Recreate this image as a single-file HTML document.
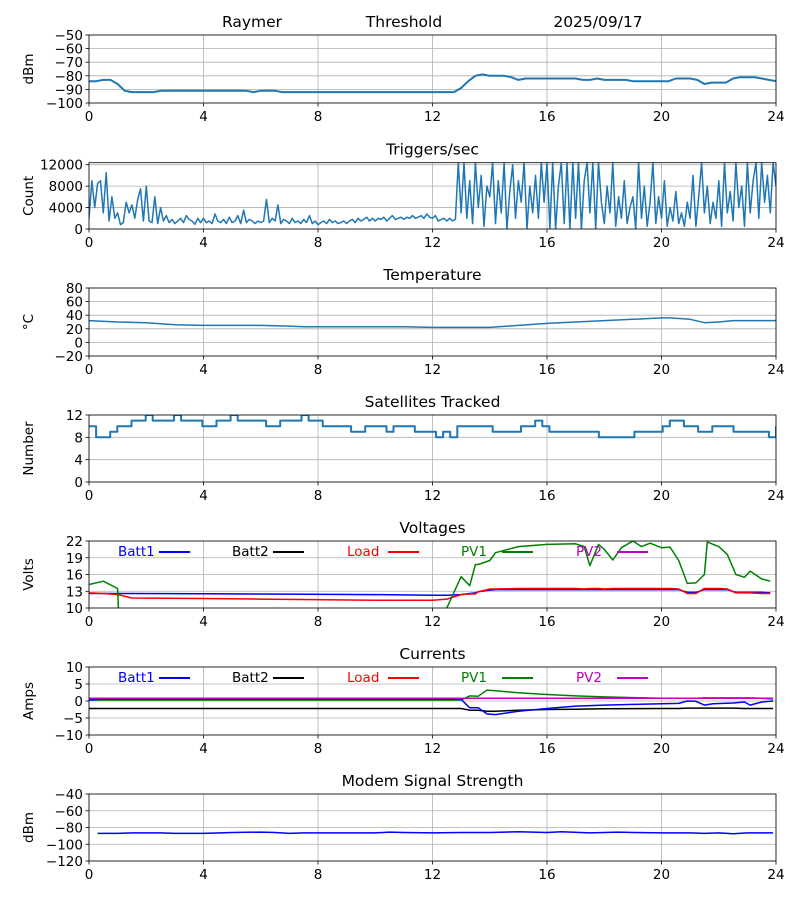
<!DOCTYPE html>
<html><head><meta charset="utf-8"><style>
html,body{margin:0;padding:0;background:#fff;}
svg{display:block;font-family:"DejaVu Sans","Liberation Sans",sans-serif;}
</style></head><body>
<svg id="chart" width="800" height="900" viewBox="0 0 800 900" xmlns="http://www.w3.org/2000/svg">
<text x="252" y="27" font-size="15.5" text-anchor="middle">Raymer</text>
<text x="404" y="27" font-size="15.5" text-anchor="middle">Threshold</text>
<text x="598" y="27" font-size="15.5" text-anchor="middle">2025/09/17</text>
</svg>
<script>
// ---------- data ----------
const dbmValues=[-84,-84,-83,-83,-86,-91,-92,-92,-92,-92,-91,-91,-91,-91,-91,-91,-91,-91,-91,-91,-91,-91,-91,-92,-91,-91,-91,-92,-92,-92,-92,-92,-92,-92,-92,-92,-92,-92,-92,-92,-92,-92,-92,-92,-92,-92,-92,-92,-92,-92,-92,-92,-89,-84,-80,-79,-80,-80,-80,-81,-83,-82,-82,-82,-82,-82,-82,-82,-82,-83,-83,-82,-83,-83,-83,-83,-84,-84,-84,-84,-84,-84,-82,-82,-82,-83,-86,-85,-85,-85,-82,-81,-81,-81,-82,-83,-84];
const trigValues=[2000,9000,4000,8500,9000,3000,10500,1500,6000,2000,3000,800,1200,5000,3000,4500,2000,5500,7500,1500,8000,1500,1200,6000,1000,4000,1500,2500,1200,1800,1000,1500,2000,1200,2500,1800,1500,900,2000,1200,2000,1200,1500,1000,2800,1500,1200,1800,1000,2200,1200,1500,2500,1000,3500,1200,1800,1500,1000,1500,1200,1500,5500,1200,2000,1500,4500,1000,1800,1500,1000,2000,1200,1500,1000,1800,1200,2500,1000,1500,800,1200,1500,1000,1800,1200,1500,1000,1200,1500,1000,1500,1800,1200,2000,1500,1800,2200,1500,2000,1500,2000,1800,2200,1500,2000,2500,1800,2000,2200,1800,2200,2000,2500,2000,2200,2500,2000,2800,2200,2000,2500,1500,1800,2000,1500,2000,1500,1800,12400,3000,12400,2000,9000,1000,12400,4000,10000,500,8000,6000,12400,1000,9000,3000,12400,0,7000,12000,2000,9000,5000,12400,0,8000,3000,10000,2000,12400,5000,12400,0,12400,0,8000,12400,1000,12400,0,12400,2000,12400,0,9000,12400,3000,12400,0,12400,5000,1000,8000,3000,12400,500,6000,2000,9000,1000,4000,6000,0,12400,2000,8000,500,5000,12400,1000,6000,2000,9000,500,4000,1500,7000,1000,3000,500,5000,2000,10000,500,6000,12400,3000,8000,1000,5000,2000,9000,500,12400,3000,7000,1500,12400,4000,8000,500,12400,3000,9000,12400,2000,12400,5000,10000,3000,12400,8000];
const tempHours=[0,1,2,3,4,5,6,7,7.5,8,9,10,11,12,13,14,15,16,17,18,19,20,20.3,21,21.5,22,22.5,23,24];
const tempValues=[32,30,29,26,25,25,25,24,23,23,23,23,23,22,22,22,25,28,30,32,34,36,36,34,29,30,32,32,32];
const satValues=[10,8,8,9,10,10,11,11,12,11,11,11,12,11,11,11,10,10,11,11,12,11,11,11,11,10,10,11,11,11,12,11,11,10,10,10,10,9,9,10,10,10,9,10,10,10,9,9,9,8,9,8,10,10,10,10,10,9,9,9,9,10,10,11,10,9,9,9,9,9,9,9,8,8,8,8,8,9,9,9,9,10,11,11,10,10,9,9,10,10,10,9,9,9,9,9,8,10];
const voltHours=[0,0.5,1,1.1,1.5,4,6,10,12,12.5,13,13.3,13.5,13.6,14,14.2,15,16,17,17.3,17.5,17.8,18,18.3,18.6,19,19.3,19.6,20,20.3,20.6,20.9,21.2,21.5,21.6,22,22.3,22.6,22.9,23.1,23.5,23.8];
const batt1Volts=[12.6,12.6,12.6,12.6,12.6,12.55,12.5,12.4,12.3,12.3,12.4,12.6,12.7,12.9,13.2,13.3,13.3,13.3,13.3,13.3,13.3,13.3,13.3,13.3,13.3,13.3,13.3,13.3,13.3,13.3,13.3,12.8,12.8,13.3,13.3,13.3,13.3,12.8,12.8,12.8,12.8,12.7];
const loadVolts=[12.7,12.6,12.4,12.3,11.8,11.7,11.6,11.4,11.4,11.6,12.4,12.5,12.5,12.9,13.4,13.4,13.5,13.5,13.5,13.4,13.5,13.5,13.4,13.5,13.5,13.5,13.5,13.5,13.5,13.5,13.4,12.6,12.6,13.5,13.5,13.5,13.4,12.7,12.7,12.7,12.6,12.6];
const pv1Volts=[14.2,14.8,13.5,0,0,0,0,0,0,10,15.6,14,17.8,17.8,18.5,19.9,21,21.4,21.5,21,17.6,21.4,20.5,18.6,20.8,22,21,21.6,20.8,20.9,18.5,14.4,14.5,16,21.8,21,19.6,16,15.5,16.6,15.2,14.8];
const currHours=[0,0.5,13,13.3,13.6,13.9,14.2,15,16,17,18,19,20,20.6,20.9,21.2,21.5,21.8,22.5,22.9,23.1,23.5,23.9];
const batt1Amps=[0.3,0.5,0.5,-2,-2,-3.8,-4,-3,-2.2,-1.5,-1.2,-1,-0.8,-0.7,0,-0.1,-1.2,-0.8,-0.6,-0.3,-1.2,-0.3,0];
const batt2Amps=[-2.2,-2.2,-2.2,-2.7,-2.7,-3,-3,-2.7,-2.5,-2.4,-2.3,-2.25,-2.2,-2.2,-2.1,-2.1,-2.1,-2.1,-2.1,-2.2,-2.2,-2.2,-2.2];
const pv1Amps=[0.3,0.3,0.3,1.5,1.4,3.2,3,2.4,1.9,1.5,1.2,1,0.8,0.8,0.8,0.8,0.9,0.9,0.9,0.9,0.9,0.8,0.6];
const pv2Amps=[0.8,0.8,0.8,0.8,0.8,0.8,0.8,0.8,0.8,0.8,0.8,0.8,0.8,0.8,0.8,0.8,0.8,0.8,0.8,0.8,0.8,0.8,0.8];
const modemHours=[0.3,1,1.5,2.5,3,4,5,6,6.5,7,7.5,9,10,10.5,11,12,13,14,15,16,16.5,17.5,18.5,19,20,21,21.5,22,22.5,23,23.9];
const modemValues=[-87,-87,-86.5,-86.5,-87,-87,-86,-85.5,-86,-87,-86.5,-86.5,-86.5,-85.5,-86,-86.5,-86,-86,-85,-86,-85,-86.5,-85.5,-86,-86.5,-86.5,-87,-86.5,-87.5,-86.5,-86.5];
const xTicks=[0,4,8,12,16,20,24];

// ---------- drawing ----------
const NS='http://www.w3.org/2000/svg';
const svg=document.getElementById('chart');
const X0=89,X1=776;
function mk(tag,attrs,parent){const e=document.createElementNS(NS,tag);for(const k in attrs)e.setAttribute(k,attrs[k]);(parent||svg).appendChild(e);return e;}
function xs(h){return X0+(h/24)*(X1-X0);}
function idxHours(n){const a=[];for(let i=0;i<n;i++)a.push(i*24/(n-1));return a;}

function panel(cfg){
  const g=mk('g',{});
  
  
  const ys=v=>cfg.bottom-(v-cfg.ymin)/(cfg.ymax-cfg.ymin)*(cfg.bottom-cfg.top);
  const cid='clip-'+cfg.name;
  const cp=mk('clipPath',{id:cid},g);mk('rect',{x:X0,y:cfg.top,width:X1-X0,height:cfg.bottom-cfg.top},cp);
  xTicks.forEach(t=>{
    const l=mk('line',{x1:xs(t),x2:xs(t),y1:cfg.top,y2:cfg.bottom,stroke:'#b0b0b0','stroke-width':0.8},g);
    
    
    mk('line',{x1:xs(t),x2:xs(t),y1:cfg.bottom,y2:cfg.bottom+3.5,stroke:'#000','stroke-width':0.8},g);
    const tx=mk('text',{x:xs(t),y:cfg.bottom+18,'font-size':13.5,'text-anchor':'middle'},g);
    tx.textContent=t;
    
    
  });
  cfg.yticks.forEach(t=>{
    const y=ys(t);
    const l=mk('line',{x1:X0,x2:X1,y1:y,y2:y,stroke:'#b0b0b0','stroke-width':0.8},g);
    
    
    mk('line',{x1:X0-3.5,x2:X0,y1:y,y2:y,stroke:'#000','stroke-width':0.8},g);
    const tx=mk('text',{x:X0-6,y:y+5,'font-size':13.5,'text-anchor':'end'},g);
    tx.textContent=String(t).replace('-','\u2212');
    
    
  });
  const yl=mk('text',{x:0,y:0,'font-size':13.5,'text-anchor':'middle',transform:`translate(33,${(cfg.top+cfg.bottom)/2}) rotate(-90)`},g);
  yl.textContent=cfg.ylabel;
  
  
  if(cfg.title){
    const tt=mk('text',{x:432.5,y:cfg.top-8,'font-size':15.5,'text-anchor':'middle'},g);
    tt.textContent=cfg.title;
    
    
  }
  cfg.series.forEach(s=>{
    let d='';
    s.y.forEach((v,i)=>{
      let px=xs(s.x[i]),py=ys(v);
      if(s.step&&i>0){d+=`L${px.toFixed(1)},${ys(s.y[i-1]).toFixed(1)}`;}
      d+=(i?'L':'M')+px.toFixed(1)+','+py.toFixed(1);
    });
    const p=mk('path',{d:d,fill:'none',stroke:s.color,'stroke-width':s.w||1.5,'clip-path':`url(#${cid})`,'stroke-linejoin':'round'},g);
    
    
  });
  mk('rect',{x:X0,y:cfg.top,width:X1-X0,height:cfg.bottom-cfg.top,fill:'none',stroke:'#000','stroke-width':0.8},g);
  if(cfg.legend){
    const items=[['Batt1','#0000ff',118],['Batt2','#000000',232],['Load','#ff0000',347],['PV1','#008000',461],['PV2','#bf00bf',576]];
    items.forEach(it=>{
      const lg=mk('g',{},g);
      
      
      const t=mk('text',{x:it[2],y:cfg.top+15,'font-size':13.5,fill:it[1]},lg);
      t.textContent=it[0];
      mk('line',{x1:it[2]+41,x2:it[2]+72,y1:cfg.top+11,y2:cfg.top+11,stroke:it[1],'stroke-width':2},lg);
    });
  }
}
const B='#1f77b4';
panel({name:'dbm',top:35,bottom:103,ymin:-100,ymax:-50,yticks:[-50,-60,-70,-80,-90,-100],ylabel:'dBm',
  series:[{name:'dbm',x:idxHours(dbmValues.length),y:dbmValues,color:B,w:2}]});
panel({name:'triggers',top:162.7,bottom:229,ymin:0,ymax:12373,yticks:[0,4000,8000,12000],ylabel:'Count',title:'Triggers/sec',
  series:[{name:'triggers',x:idxHours(trigValues.length),y:trigValues,color:B,w:1.5}]});
panel({name:'temperature',top:288,bottom:356,ymin:-20,ymax:80,yticks:[-20,0,20,40,60,80],ylabel:'\u00B0C',title:'Temperature',
  series:[{name:'temperature',x:tempHours,y:tempValues,color:B}]});
panel({name:'satellites',top:415,bottom:482,ymin:0,ymax:12,yticks:[0,4,8,12],ylabel:'Number',title:'Satellites Tracked',
  series:[{name:'satellites',x:idxHours(satValues.length),y:satValues,color:B,step:true,w:2}]});
panel({name:'voltages',top:541,bottom:608,ymin:10,ymax:22,yticks:[10,13,16,19,22],ylabel:'Volts',title:'Voltages',legend:true,
  series:[{name:'batt1-volts',x:voltHours,y:batt1Volts,color:'#0000ff'},{name:'load-volts',x:voltHours,y:loadVolts,color:'#ff0000'},{name:'pv1-volts',x:voltHours,y:pv1Volts,color:'#008000'}]});
panel({name:'currents',top:667,bottom:735,ymin:-10,ymax:10,yticks:[-10,-5,0,5,10],ylabel:'Amps',title:'Currents',legend:true,
  series:[{name:'batt2-amps',x:currHours,y:batt2Amps,color:'#000000'},{name:'pv1-amps',x:currHours,y:pv1Amps,color:'#008000'},{name:'batt1-amps',x:currHours,y:batt1Amps,color:'#0000ff'},{name:'pv2-amps',x:currHours,y:pv2Amps,color:'#bf00bf'}]});
panel({name:'modem',top:794,bottom:861,ymin:-120,ymax:-40,yticks:[-40,-60,-80,-100,-120],ylabel:'dBm',title:'Modem Signal Strength',
  series:[{name:'modem-signal',x:modemHours,y:modemValues,color:'#0000ff'}]});
</script>
</body></html>
